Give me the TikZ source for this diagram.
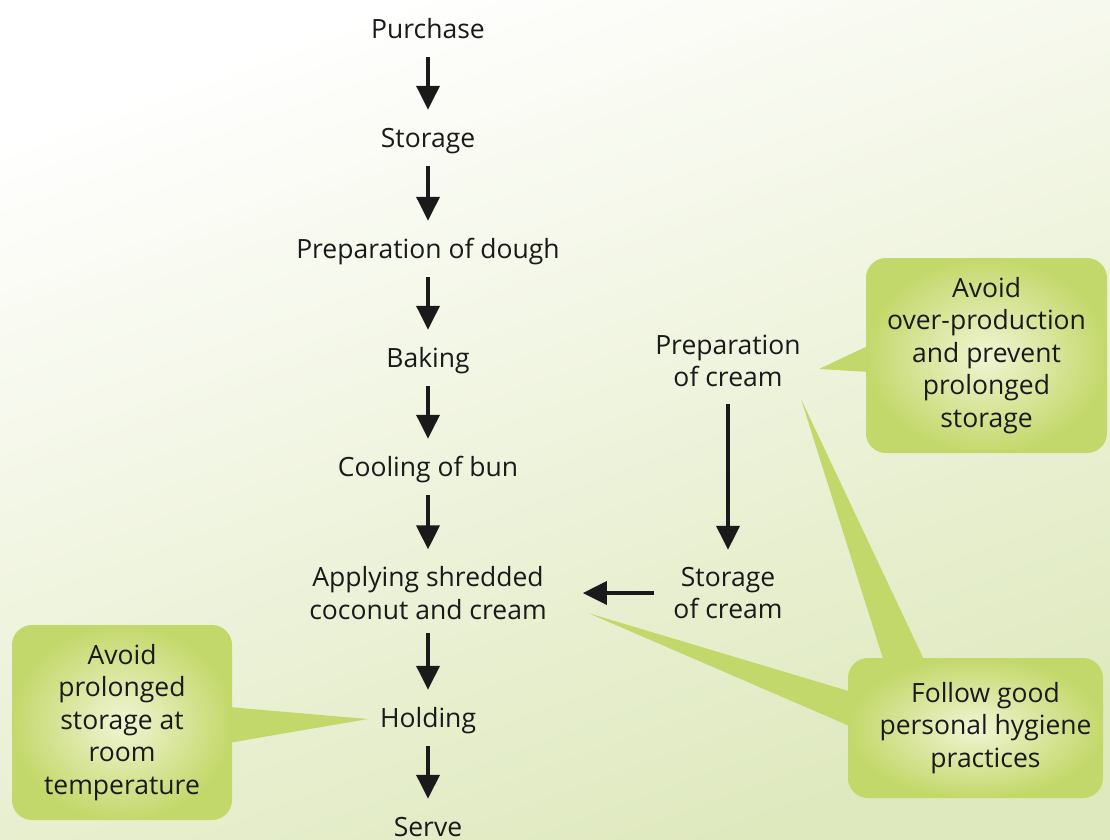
\documentclass[tikz,border=0pt]{standalone}
\usepackage{fontspec}
\setmainfont{Open Sans}
\usetikzlibrary{arrows.meta, calc, shadings}
\definecolor{bgend}{HTML}{DFE9BE}
\definecolor{callgreen}{HTML}{C3D86B}
\definecolor{calllight}{HTML}{F1F5D4}
\definecolor{inkdark}{HTML}{1A1A1A}

\tikzset{
  stage/.style={font=\fontsize{26.5}{32.5}\selectfont, text=inkdark, inner sep=0pt, align=center},
  single/.style={stage, anchor=base, text height=20pt, text depth=6pt},
  flow/.style={-{Triangle[width=23pt,length=24pt]}, line width=3.5pt, draw=inkdark,
    shorten <=13pt, shorten >=17pt},
  callout/.style={stage, rounded corners=20pt, shade, inner color=calllight, outer color=callgreen},
  pointer/.style={fill=callgreen}
}

\begin{document}
\begin{tikzpicture}[x=1pt, y=-1pt]
\useasboundingbox (0,0) rectangle (1110,839);
\shade[top color=white, bottom color=bgend, shading angle=20] (0,0) rectangle (1110,839);

% main line
\node[single] (purchase) at (428,38) {Purchase};
\node[single] (storage) at (428,147) {Storage};
\node[single] (dough) at (428,258) {Preparation of dough};
\node[single] (baking) at (428,367) {Baking};
\node[single] (cooling) at (428,476) {Cooling of bun};
\node[stage] (applying) at (428,593) {Applying shredded\\coconut and cream};
\node[single] (holding) at (428,727) {Holding};
\node[single] (serve) at (428,836) {Serve};

% cream line
\node[stage] (prepcream) at (728,361) {Preparation\\of cream};
\node[stage] (storecream) at (728,593) {Storage\\of cream};

\draw[flow] (purchase) -- (storage);
\draw[flow] (storage) -- (dough);
\draw[flow] (dough) -- (baking);
\draw[flow] (baking) -- (cooling);
\draw[flow] (cooling) -- (applying);
\draw[flow] (applying) -- (holding);
\draw[flow] (holding) -- (serve);
\draw[flow, shorten <=17pt] (prepcream) -- (storecream);
\draw[flow, shorten <=19pt, shorten >=36pt] (storecream) -- (applying);

% callouts
\coordinate (tipover) at (819,369);
\coordinate (tipcream) at (801,399);
\coordinate (tipapply) at (588,613);
\coordinate (tiphold) at (368,719);

\path (986.5,355.5) node[callout, minimum width=241pt, minimum height=195pt] (over) {};
\path (975.5,728) node[callout, minimum width=255pt, minimum height=140pt] (hygiene) {};
\path (122,722.5) node[callout, minimum width=220pt, minimum height=195pt] (roomtemp) {};

\fill[pointer] (tipover) -- ($(over.west)+(4,-10.5)$) -- ($(over.west)+(4,16.5)$) -- cycle;
\fill[pointer] (tipcream) -- ($(hygiene.north)+(-91.5,4)$) -- ($(hygiene.north)+(-50.5,4)$) -- cycle;
\fill[pointer] (tipapply) -- ($(hygiene.west)+(4,-36)$) -- ($(hygiene.west)+(4,-1)$) -- cycle;
\fill[pointer] (tiphold) -- ($(roomtemp.east)+(-4,-15.5)$) -- ($(roomtemp.east)+(-4,20.5)$) -- cycle;

\node[stage] (overtext) at (over) {Avoid\\over-production\\and prevent\\prolonged\\storage};
\node[stage] (hygienetext) at ($(hygiene)+(10,0)$) {Follow good\\personal hygiene\\practices};
\node[stage] (roomtext) at (roomtemp) {Avoid\\prolonged\\storage at\\room\\temperature};
\end{tikzpicture}
\end{document}
